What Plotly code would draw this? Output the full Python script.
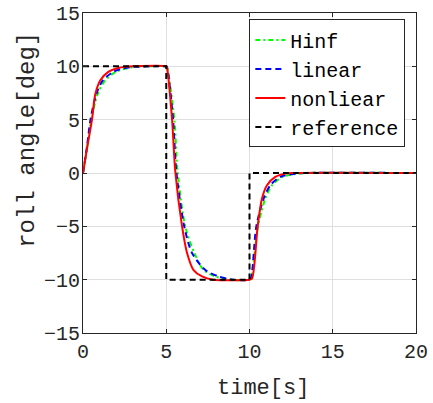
import plotly.graph_objects as go

# Hinf response
t_hinf = [0, 0.25, 0.5, 0.88, 1.34, 2.0, 2.6, 3.1, 4.0, 5.0, 5.05, 5.49, 5.68, 6.14, 6.69, 7.25, 7.95, 8.8,
          10.0, 10.1, 10.51, 10.95, 11.35, 11.99, 12.9, 13.5, 20]
y_hinf = [0, 2.4, 5.0, 7.4, 8.7, 9.5, 9.8, 9.95, 10, 10, 9.9, 5.0, 0.2, -5.0, -7.5, -9.1, -9.7, -10,
          -10, -9.8, -5.0, -2.4, -1.15, -0.37, -0.06, 0, 0]

# linear response
t_lin = [0, 0.25, 0.45, 0.8, 1.2, 1.84, 2.4, 3.0, 4.0, 5.0, 5.05, 5.41, 5.6, 6.08, 6.55, 7.35, 8.15, 9.0,
         10.0, 10.1, 10.41, 10.85, 11.25, 11.85, 12.75, 13.3, 20]
y_lin = [0, 2.6, 5.0, 7.4, 8.7, 9.5, 9.8, 9.95, 10, 10, 9.9, 5.0, 0.2, -5.0, -7.5, -9.1, -9.7, -10,
         -10, -9.8, -5.0, -2.4, -1.15, -0.37, -0.06, 0, 0]

# nonlinear response
t_nl = [0, 0.25, 0.54, 0.74, 1.04, 1.54, 2.0, 2.5, 3.0, 5.0, 5.04, 5.35, 5.54, 5.95, 6.25, 6.64, 7.15, 7.8,
        10.0, 10.15, 10.49, 10.75, 11.05, 11.55, 12.15, 12.6, 20]
y_nl = [0, 2.4, 5.0, 7.4, 8.7, 9.5, 9.8, 9.95, 10, 10, 9.9, 5.0, 0.2, -5.0, -7.5, -9.1, -9.7, -10,
        -10, -9.9, -5.0, -2.4, -1.15, -0.37, -0.06, 0, 0]

# reference step signal
t_ref = [0, 5, 10, 20]
y_ref = [10, -10, 0, 0]

x_ticks = [0, 5, 10, 15, 20]
y_ticks = [-15, -10, -5, 0, 5, 10, 15]

FONT = "Liberation Mono"
AX = "#262626"

fig = go.Figure()
fig.add_trace(go.Scatter(x=t_hinf, y=y_hinf, name="Hinf", mode="lines",
                         line=dict(color="#00ff00", width=2, dash="5px,3px,2px,3px", shape="spline", smoothing=0.8)))
fig.add_trace(go.Scatter(x=t_lin, y=y_lin, name="linear", mode="lines",
                         line=dict(color="#0000ff", width=2, dash="6px,4px", shape="spline", smoothing=0.8)))
fig.add_trace(go.Scatter(x=t_nl, y=y_nl, name="nonliear", mode="lines",
                         line=dict(color="#ff0000", width=2, shape="spline", smoothing=0.8)))
fig.add_trace(go.Scatter(x=t_ref, y=y_ref, name="reference", mode="lines",
                         line=dict(color="#000000", width=2, dash="6px,4px", shape="hv")))

axis_common = dict(showgrid=True, gridcolor="#dfdfdf", gridwidth=1, zeroline=False,
                   showline=True, linecolor=AX, linewidth=1, mirror="ticks",
                   ticks="inside", ticklen=4, tickcolor=AX, automargin=False,
                   tickfont=dict(family=FONT, size=20, color=AX))

fig.update_xaxes(range=[0, 20], tickvals=x_ticks, **axis_common)
fig.update_yaxes(range=[-15, 15], tickvals=y_ticks, ticklabelstandoff=-2, **axis_common)

fig.update_layout(
    width=433, height=403,
    margin=dict(l=83, r=17, t=13, b=70, autoexpand=False),
    paper_bgcolor="white", plot_bgcolor="white",
    showlegend=True,
    hovermode=False,
    legend=dict(x=0.968, y=0.980, xanchor="right", yanchor="top",
                bgcolor="white", bordercolor=AX, borderwidth=1,
                font=dict(family=FONT, size=20, color="#000000"),
                itemwidth=30, tracegroupgap=0),
    annotations=[
        dict(text="roll angle[deg]", x=-0.167, y=0.605, xref="paper", yref="paper",
             textangle=-90, showarrow=False, xanchor="center", yanchor="middle",
             font=dict(family=FONT, size=24, color=AX)),
        dict(text="time[s]", x=0.541, y=-0.174, xref="paper", yref="paper",
             showarrow=False, xanchor="center", yanchor="middle",
             font=dict(family=FONT, size=22, color=AX)),
    ],
)

fig.write_html("out.html")
